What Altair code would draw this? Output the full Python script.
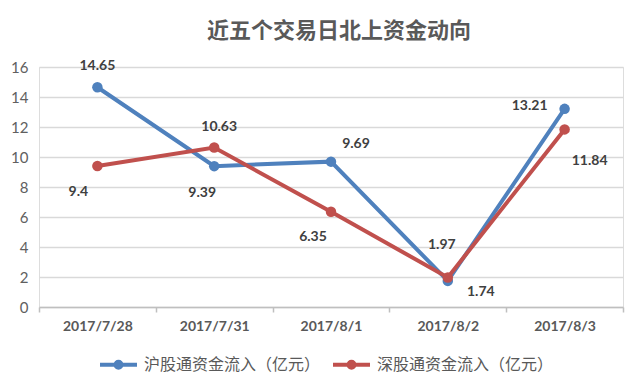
import altair as alt
import pandas as pd

# ---- data ----
dates = ["2017/7/28", "2017/7/31", "2017/8/1", "2017/8/2", "2017/8/3"]
sh_values = [14.65, 9.39, 9.69, 1.74, 13.21]
sz_values = [9.4, 10.63, 6.35, 1.97, 11.84]
series_names = ["沪股通资金流入（亿元）", "深股通资金流入（亿元）"]
title_text = "近五个交易日北上资金动向"

rows = []
for name, vals in zip(series_names, [sh_values, sz_values]):
    for d, v in zip(dates, vals):
        rows.append({"date": d, "series": name, "value": v, "label": str(v)})
df = pd.DataFrame(rows)

# ---- style ----
colors = ["#4F81BD", "#C0504D"]
W, H = 584, 240
# label offsets (pixels) per series, per date
label_offsets = [
    [(0, -21), (-12, 27), (25, -18), (33, 11), (-35, -3)],
    [(-19, 26), (5, -21), (-18, 25), (-6, -32), (25, 32)],
]

num_font = "Lato"
cjk_font = "Noto Sans CJK SC"

x_enc = alt.X("date:N", sort=dates, title=None,
              scale=alt.Scale(paddingInner=0, paddingOuter=0),
              axis=alt.Axis(tickBand="extent", labelAngle=0,
                            labelFont=num_font, labelFontSize=14, labelFontWeight="bold",
                            labelColor="#595959", labelPadding=7,
                            domainColor="#BFBFBF", domainWidth=1.5,
                            tickColor="#BFBFBF", tickWidth=1.5, tickSize=5,
                            grid=False))
y_enc = alt.Y("value:Q", title=None,
              scale=alt.Scale(domain=[0, 16], nice=False),
              axis=alt.Axis(values=list(range(0, 17, 2)), domain=False, ticks=False,
                            labelFont=num_font, labelFontSize=15, labelColor="#606060",
                            labelPadding=11, gridColor="#D9D9D9", gridWidth=1.5))
color_scale = alt.Scale(domain=series_names, range=colors)

legend_path = ("M-1,0L1,0M-0.16,0A0.16,0.16,0,1,1,0.16,0"
               "A0.16,0.16,0,1,1,-0.16,0")

lines = alt.Chart(df).mark_line(strokeWidth=4).encode(
    x=x_enc, y=y_enc,
    color=alt.Color("series:N", scale=color_scale, sort=series_names,
                    legend=alt.Legend(title=None, orient="none", direction="horizontal",
                                      legendX=59, legendY=277,
                                      symbolType=legend_path, symbolSize=1369,
                                      symbolStrokeWidth=4, labelOffset=5,
                                      columnPadding=4, padding=0,
                                      labelFont=cjk_font, labelFontSize=16,
                                      labelColor="#595959", labelLimit=300)),
)

points = alt.Chart(df).mark_circle(size=110, opacity=1).encode(
    x=x_enc, y=y_enc,
    color=alt.Color("series:N", scale=color_scale, legend=None),
)

text_layers = []
for si, name in enumerate(series_names):
    for di, d in enumerate(dates):
        dx, dy = label_offsets[si][di]
        text_layers.append(
            alt.Chart(df)
            .transform_filter((alt.datum.series == name) & (alt.datum.date == d))
            .mark_text(dx=dx, dy=dy, font=num_font, fontSize=14, fontWeight="bold",
                       color="#404040", align="center", baseline="middle")
            .encode(x=x_enc, y=y_enc, text="label:N")
        )

chart = alt.layer(lines, points, *text_layers).properties(
    width=W, height=H,
    autosize=alt.AutoSizeParams(type="none"),
    padding={"left": 31, "top": 59, "right": 9, "bottom": 76},
    title=alt.TitleParams(title_text, font=cjk_font, fontSize=22, fontWeight="bold",
                          color="#595959", anchor="middle", dx=8, offset=16),
).configure_view(stroke=None).configure(background="white")

chart.save("out.html", embed_options={"renderer": "svg", "actions": False})
